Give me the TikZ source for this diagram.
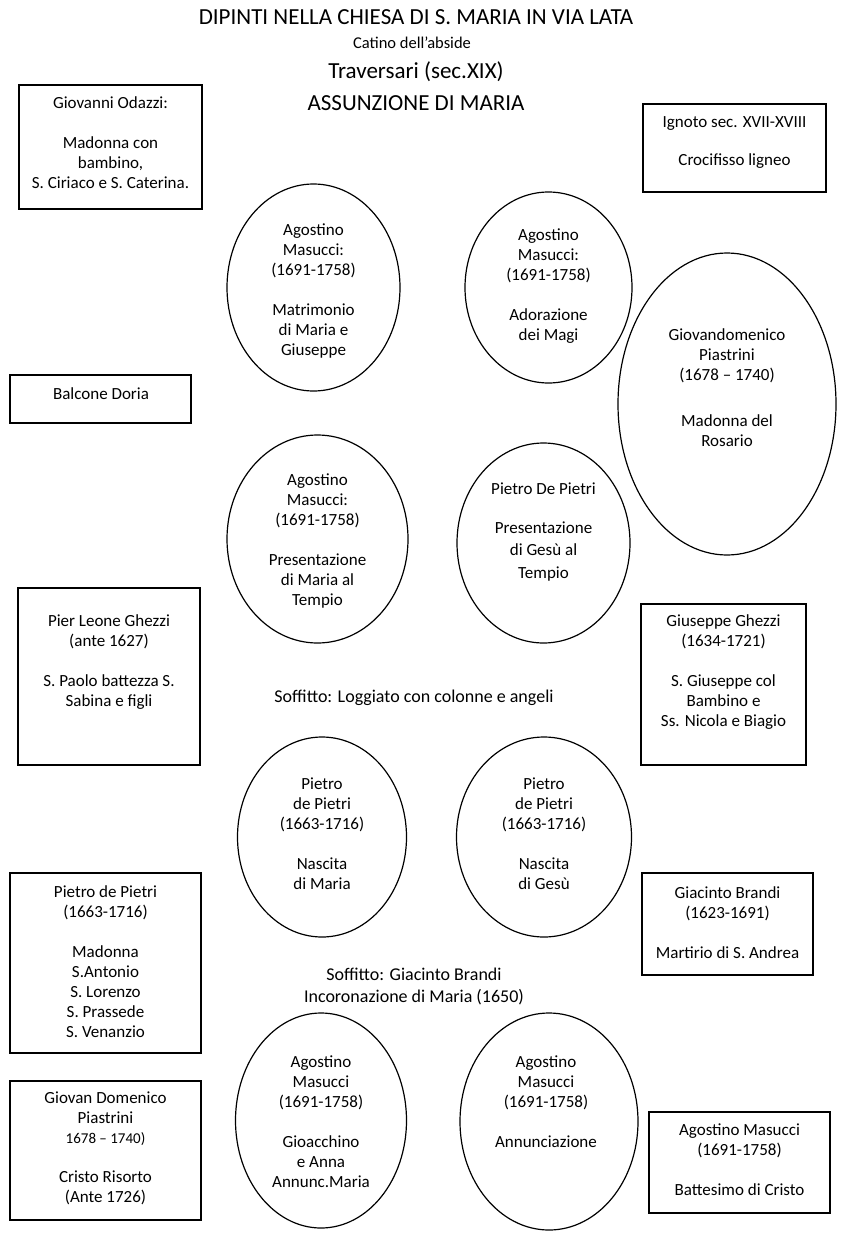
\documentclass[tikz,border=0pt]{standalone}
\usepackage{fontspec}
\setmainfont{Carlito}
\usetikzlibrary{shapes.geometric}
\begin{document}
\begin{tikzpicture}[x=1pt,y=-1pt,
  frame/.style={draw,line width=1.2pt,inner sep=0pt,rectangle},
  oval/.style={draw,line width=1.2pt,inner sep=0pt,ellipse},
  txt/.style={align=center,inner sep=0pt,font=\fontsize{17}{20}\selectfont},
  ttl/.style={align=center,inner sep=0pt,font=\fontsize{23}{27}\selectfont},
  sml/.style={align=center,inner sep=0pt,font=\fontsize{16.5}{20}\selectfont}]
\path[fill=white,use as bounding box] (0,0) rectangle (844,1237);

% titles
\node[ttl] (t1) at (416,17) {DIPINTI NELLA CHIESA DI S. MARIA IN VIA LATA};
\node[sml] (t2) at (412,43) {Catino dell’abside};
\node[ttl] (t3) at (416,72) {Traversari (sec.XIX)};
\node[ttl] (t4) at (416,103) {ASSUNZIONE DI MARIA};

% boxes
\node[frame,minimum width=183pt,minimum height=124pt] (bA) at (110.5,147) {};
\node[txt] (tA) at (110.5,143) {Giovanni Odazzi:\\[20pt]Madonna con\\bambino,\\S. Ciriaco e S. Caterina.};

\node[frame,minimum width=183pt,minimum height=88pt] (bB) at (734.5,148) {};
\node[txt] (tB) at (734.5,143) {Ignoto sec. XVII-XVIII\\[18pt]Crocifisso ligneo};

\node[frame,minimum width=181pt,minimum height=48pt] (bC) at (100.5,399) {};
\node[txt] (tC) at (101,394) {Balcone Doria};

\node[frame,minimum width=182pt,minimum height=177pt] (bD) at (109,676.5) {};
\node[txt] (tD) at (109,662) {Pier Leone Ghezzi\\(ante 1627)\\[20pt]S. Paolo battezza S.\\Sabina e figli};

\node[frame,minimum width=165pt,minimum height=161pt] (bE) at (723.5,684.5) {};
\node[txt] (tE) at (723.5,672) {Giuseppe Ghezzi\\(1634-1721)\\[20pt]S. Giuseppe col\\Bambino e\\Ss. Nicola e Biagio};

\node[frame,minimum width=191pt,minimum height=180pt] (bF) at (105.5,963) {};
\node[txt] (tF) at (105.5,962) {Pietro de Pietri\\(1663-1716)\\[20pt]Madonna\\S.Antonio\\S. Lorenzo\\S. Prassede\\S. Venanzio};

\node[frame,minimum width=171pt,minimum height=102pt] (bG) at (727.5,924) {};
\node[txt] (tG) at (727.5,923) {Giacinto Brandi\\(1623-1691)\\[20pt]Martirio di S. Andrea};

\node[frame,minimum width=191pt,minimum height=139pt] (bH) at (105.5,1150.5) {};
\node[txt] (tH) at (105.5,1148) {Giovan Domenico\\Piastrini\\{\fontsize{15}{19}\selectfont 1678 – 1740)}\\[19pt]Cristo Risorto\\(Ante 1726)};

\node[frame,minimum width=181pt,minimum height=101pt] (bI) at (739.5,1162.5) {};
\node[txt] (tI) at (739.5,1160) {Agostino Masucci\\(1691-1758)\\[20pt]Battesimo di Cristo};

% ellipses
\node[oval,minimum width=173pt,minimum height=207pt] (e1) at (313.5,287.5) {};
\node[txt] (te1) at (313.5,291) {Agostino\\Masucci:\\(1691-1758)\\[20pt]Matrimonio\\di Maria e\\Giuseppe};

\node[oval,minimum width=167pt,minimum height=191pt] (e2) at (548.5,287.5) {};
\node[txt] (te2) at (548.5,286) {Agostino\\Masucci:\\(1691-1758)\\[20pt]Adorazione\\dei Magi};

\node[oval,minimum width=218pt,minimum height=302pt] (e3) at (727,404) {};
\node[txt] (te3) at (727,388) {Giovandomenico\\Piastrini\\(1678 – 1740)\\[26pt]Madonna del\\Rosario};

\node[oval,minimum width=181pt,minimum height=208pt] (e4) at (317.5,539) {};
\node[txt] (te4) at (317.5,541) {Agostino\\Masucci:\\(1691-1758)\\[20pt]Presentazione\\di Maria al\\Tempio};

\node[oval,minimum width=173pt,minimum height=200pt] (e5) at (543.5,543) {};
\node[txt,font=\fontsize{17}{22.5}\selectfont] (te5) at (543.5,532) {Pietro De Pietri\\[16pt]Presentazione\\di Gesù al\\Tempio};

\node[oval,minimum width=169pt,minimum height=200pt] (e6) at (322,837) {};
\node[txt] (te6) at (322,834) {Pietro\\de Pietri\\(1663-1716)\\[20pt]Nascita\\di Maria};

\node[oval,minimum width=175pt,minimum height=200pt] (e7) at (544,837) {};
\node[txt] (te7) at (544,834) {Pietro\\de Pietri\\(1663-1716)\\[20pt]Nascita\\di Gesù};

\node[oval,minimum width=171pt,minimum height=215pt] (e8) at (321,1120.5) {};
\node[txt] (te8) at (321,1122) {Agostino\\Masucci\\(1691-1758)\\[20pt]Gioacchino\\e Anna\\Annunc.Maria};

\node[oval,minimum width=178pt,minimum height=217pt] (e9) at (549,1121.5) {};
\node[txt] (te9) at (546,1102) {Agostino\\Masucci\\(1691-1758)\\[20pt]Annunciazione};

% middle labels
\node[txt,font=\fontsize{18}{23}\selectfont] (m1) at (414,698) {Soffitto: Loggiato con colonne e angeli};
\node[txt,font=\fontsize{18}{22}\selectfont] (m2) at (414,986) {Soffitto: Giacinto Brandi\\Incoronazione di Maria (1650)};
\end{tikzpicture}
\end{document}
